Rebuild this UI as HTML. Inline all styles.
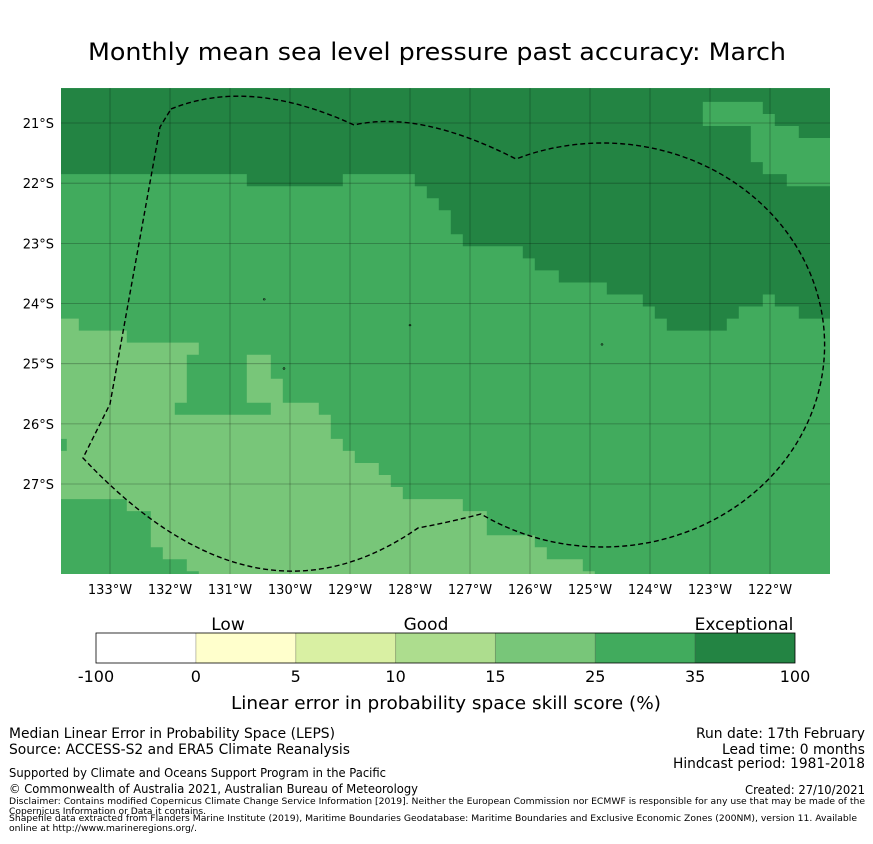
<!DOCTYPE html>
<html><head><meta charset="utf-8"><style>
html,body{margin:0;padding:0;background:#fff;}
svg text{font-family:"DejaVu Sans","Liberation Sans",sans-serif;fill:#000;}
</style></head><body>
<svg id="chart" width="873" height="839" viewBox="0 0 873 839" xmlns="http://www.w3.org/2000/svg">
<text x="88" y="60" font-size="24" textLength="698" lengthAdjust="spacingAndGlyphs">Monthly mean sea level pressure past accuracy: March</text>
<defs><clipPath id="mapclip"><rect x="61" y="88" width="769" height="486"/></clipPath></defs>
<g id="map" clip-path="url(#mapclip)"></g>
<g id="axes"></g>
<g id="cbar"></g>
<text x="228" y="630" font-size="17" text-anchor="middle">Low</text>
<text x="426" y="630" font-size="17" text-anchor="middle">Good</text>
<text x="744" y="630" font-size="17" text-anchor="middle">Exceptional</text>
<text x="231" y="709" font-size="18" textLength="430" lengthAdjust="spacingAndGlyphs">Linear error in probability space skill score (%)</text>
<g>
<text x="9" y="738" font-size="14" textLength="326" lengthAdjust="spacingAndGlyphs">Median Linear Error in Probability Space (LEPS)</text>
<text x="9" y="754" font-size="14" textLength="341" lengthAdjust="spacingAndGlyphs">Source: ACCESS-S2 and ERA5 Climate Reanalysis</text>
<text x="9" y="777" font-size="12" textLength="377" lengthAdjust="spacingAndGlyphs">Supported by Climate and Oceans Support Program in the Pacific</text>
<text x="9" y="793" font-size="12" textLength="409" lengthAdjust="spacingAndGlyphs">© Commonwealth of Australia 2021, Australian Bureau of Meteorology</text>
<text x="9" y="804" font-size="9" textLength="856" lengthAdjust="spacingAndGlyphs">Disclaimer: Contains modified Copernicus Climate Change Service Information [2019]. Neither the European Commission nor ECMWF is responsible for any use that may be made of the</text>
<text x="9" y="814" font-size="9" textLength="197" lengthAdjust="spacingAndGlyphs">Copernicus Information or Data it contains.</text>
<text x="9" y="821" font-size="9" textLength="848" lengthAdjust="spacingAndGlyphs">Shapefile data extracted from Flanders Marine Institute (2019), Maritime Boundaries Geodatabase: Maritime Boundaries and Exclusive Economic Zones (200NM), version 11. Available</text>
<text x="9" y="831" font-size="9" textLength="188" lengthAdjust="spacingAndGlyphs">online at http://www.marineregions.org/.</text>
<text x="865" y="738" font-size="14" text-anchor="end" textLength="169" lengthAdjust="spacingAndGlyphs">Run date: 17th February</text>
<text x="865" y="754" font-size="14" text-anchor="end" textLength="143" lengthAdjust="spacingAndGlyphs">Lead time: 0 months</text>
<text x="865" y="768" font-size="14" text-anchor="end" textLength="192" lengthAdjust="spacingAndGlyphs">Hindcast period: 1981-2018</text>
<text x="865" y="794" font-size="12" text-anchor="end" textLength="120" lengthAdjust="spacingAndGlyphs">Created: 27/10/2021</text>
</g>
</svg>
<script>
// Colorbar data
const cbTicks = ["-100","0","5","10","15","25","35","100"];
const cbColors = ["#ffffff","#ffffcc","#d9f0a3","#addd8e","#78c679","#41ab5d","#238443"];
// Map extent (degrees)
const lonTicks = [-133,-132,-131,-130,-129,-128,-127,-126,-125,-124,-123,-122];
const latTicks = [-21,-22,-23,-24,-25,-26,-27];
const lonRange = [-133.82,-121.0];
const latRange = [-20.42,-28.5];
// Region polygons (lon,lat) with category index into cbColors
const darkRegion = [[-133.82,-20.42],[-121.0,-20.42],[-121.0,-24.25],[-121.52,-24.25],[-121.52,-24.05],[-121.92,-24.05],[-121.92,-23.85],[-122.12,-23.85],[-122.12,-24.05],[-122.52,-24.05],[-122.52,-24.25],[-122.72,-24.25],[-122.72,-24.45],[-123.72,-24.45],[-123.72,-24.25],[-123.92,-24.25],[-123.92,-24.05],[-124.12,-24.05],[-124.12,-23.85],[-124.72,-23.85],[-124.72,-23.65],[-125.52,-23.65],[-125.52,-23.45],[-125.92,-23.45],[-125.92,-23.25],[-126.12,-23.25],[-126.12,-23.05],[-127.12,-23.05],[-127.12,-22.85],[-127.32,-22.85],[-127.32,-22.45],[-127.52,-22.45],[-127.52,-22.25],[-127.72,-22.25],[-127.72,-22.05],[-127.92,-22.05],[-127.92,-21.85],[-129.12,-21.85],[-129.12,-22.05],[-130.72,-22.05],[-130.72,-21.85],[-133.82,-21.85]];
const topRightPatch = [[-123.12,-20.65],[-122.12,-20.65],[-122.12,-20.85],[-121.92,-20.85],[-121.92,-21.05],[-121.52,-21.05],[-121.52,-21.25],[-121.0,-21.25],[-121.0,-22.05],[-121.72,-22.05],[-121.72,-21.85],[-122.12,-21.85],[-122.12,-21.65],[-122.32,-21.65],[-122.32,-21.05],[-123.12,-21.05]];
const lightRegion = [[-133.82,-24.25],[-133.52,-24.25],[-133.52,-24.45],[-132.72,-24.45],[-132.72,-24.65],[-131.52,-24.65],[-131.52,-24.85],[-131.72,-24.85],[-131.72,-25.65],[-131.92,-25.65],[-131.92,-25.85],[-130.32,-25.85],[-130.32,-25.65],[-130.72,-25.65],[-130.72,-24.85],[-130.32,-24.85],[-130.32,-25.25],[-130.12,-25.25],[-130.12,-25.65],[-129.52,-25.65],[-129.52,-25.85],[-129.32,-25.85],[-129.32,-26.25],[-129.12,-26.25],[-129.12,-26.45],[-128.92,-26.45],[-128.92,-26.65],[-128.52,-26.65],[-128.52,-26.85],[-128.32,-26.85],[-128.32,-27.05],[-128.12,-27.05],[-128.12,-27.25],[-127.12,-27.25],[-127.12,-27.45],[-126.72,-27.45],[-126.72,-27.85],[-125.92,-27.85],[-125.92,-28.05],[-125.72,-28.05],[-125.72,-28.25],[-125.12,-28.25],[-125.12,-28.45],[-124.92,-28.45],[-124.92,-28.5],[-131.52,-28.5],[-131.52,-28.45],[-131.72,-28.45],[-131.72,-28.25],[-132.12,-28.25],[-132.12,-28.05],[-132.32,-28.05],[-132.32,-27.45],[-132.72,-27.45],[-132.72,-27.25],[-133.82,-27.25]];
const leftPatch = [[-133.82,-26.25],[-133.72,-26.25],[-133.72,-26.45],[-133.82,-26.45]];
const regions = [
  {name:"base-region", cat:5, pts:[[lonRange[0],latRange[0]],[lonRange[1],latRange[0]],[lonRange[1],latRange[1]],[lonRange[0],latRange[1]]]},
  {name:"exceptional-region", cat:6, pts:darkRegion},
  {name:"top-right-region", cat:5, pts:topRightPatch},
  {name:"lower-skill-region", cat:4, pts:lightRegion},
  {name:"left-edge-region", cat:5, pts:leftPatch}
];
const NS="http://www.w3.org/2000/svg";
function xs(lon){return 110+(lon+133)*60;}
function ys(lat){return 123+(-21-lat)*60.17;}
const map=document.getElementById('map');
regions.forEach(r=>{
  const p=document.createElementNS(NS,'polygon');
  p.setAttribute('points',r.pts.map(q=>xs(q[0]).toFixed(1)+','+ys(q[1]).toFixed(1)).join(' '));
  p.setAttribute('fill',cbColors[r.cat]);
  
  
  map.appendChild(p);
});
lonTicks.forEach(l=>{
  const ln=document.createElementNS(NS,'line');
  ln.setAttribute('x1',xs(l));ln.setAttribute('x2',xs(l));ln.setAttribute('y1',88);ln.setAttribute('y2',574);
  ln.setAttribute('stroke','rgba(0,0,0,0.3)');ln.setAttribute('stroke-width','0.8');
  
  
  map.appendChild(ln);
});
latTicks.forEach(l=>{
  const ln=document.createElementNS(NS,'line');
  ln.setAttribute('y1',ys(l));ln.setAttribute('y2',ys(l));ln.setAttribute('x1',61);ln.setAttribute('x2',830);
  ln.setAttribute('stroke','rgba(0,0,0,0.3)');ln.setAttribute('stroke-width','0.8');
  
  
  map.appendChild(ln);
});
const eez=document.createElementNS(NS,'path');
eez.setAttribute('d','M171 109 Q250 77 354 125 Q420 110 516 159 A222 202 0 1 1 481 514 Q450 522 418 528 Q255 641 83 458 L110 404 L160 127 Z');
eez.setAttribute('fill','none');eez.setAttribute('stroke','#000');eez.setAttribute('stroke-width','1.4');eez.setAttribute('stroke-dasharray','5 3');


map.appendChild(eez);
const islands=[[-130.43,-23.93],[-128.0,-24.36],[-130.1,-25.08],[-124.8,-24.68]];
islands.forEach(c=>{
  const e=document.createElementNS(NS,'ellipse');
  e.setAttribute('cx',xs(c[0]));e.setAttribute('cy',ys(c[1]));e.setAttribute('rx',1);e.setAttribute('ry',0.8);
  e.setAttribute('fill','none');e.setAttribute('stroke','#000');e.setAttribute('stroke-width','0.6');
  
  
  map.appendChild(e);
});
const axes=document.getElementById('axes');
lonTicks.forEach(l=>{
  const t=document.createElementNS(NS,'text');
  t.setAttribute('x',xs(l));t.setAttribute('y',594);t.setAttribute('font-size','13');t.setAttribute('text-anchor','middle');
  t.textContent=Math.abs(l)+'°W';
  
  
  axes.appendChild(t);
});
latTicks.forEach(l=>{
  const t=document.createElementNS(NS,'text');
  t.setAttribute('x',54);t.setAttribute('y',ys(l)+5);t.setAttribute('font-size','13');t.setAttribute('text-anchor','end');
  t.textContent=Math.abs(l)+'°S';
  
  
  axes.appendChild(t);
});
const cb=document.getElementById('cbar');
const cbX0=96, cbX1=795, cbY=633, cbH=30, segW=(cbX1-cbX0)/cbColors.length;
cbColors.forEach((c,i)=>{
  const r=document.createElementNS(NS,'rect');
  r.setAttribute('x',cbX0+i*segW);r.setAttribute('y',cbY);r.setAttribute('width',segW);r.setAttribute('height',cbH);
  r.setAttribute('fill',c);
  
  
  cb.appendChild(r);
  if(i>0){
    const ln=document.createElementNS(NS,'line');
    ln.setAttribute('x1',cbX0+i*segW);ln.setAttribute('x2',cbX0+i*segW);ln.setAttribute('y1',cbY);ln.setAttribute('y2',cbY+cbH);
    ln.setAttribute('stroke','rgba(0,0,0,0.25)');ln.setAttribute('stroke-width','1');
    
    
    cb.appendChild(ln);
  }
});
const outline=document.createElementNS(NS,'rect');
outline.setAttribute('x',cbX0);outline.setAttribute('y',cbY);outline.setAttribute('width',cbX1-cbX0);outline.setAttribute('height',cbH);
outline.setAttribute('fill','none');outline.setAttribute('stroke','#000');outline.setAttribute('stroke-width','0.8');


cb.appendChild(outline);
cbTicks.forEach((s,i)=>{
  const t=document.createElementNS(NS,'text');
  t.setAttribute('x',cbX0+i*segW);t.setAttribute('y',682);t.setAttribute('font-size','16');t.setAttribute('text-anchor','middle');
  t.textContent=s;
  
  
  cb.appendChild(t);
});
</script>
</body></html>
